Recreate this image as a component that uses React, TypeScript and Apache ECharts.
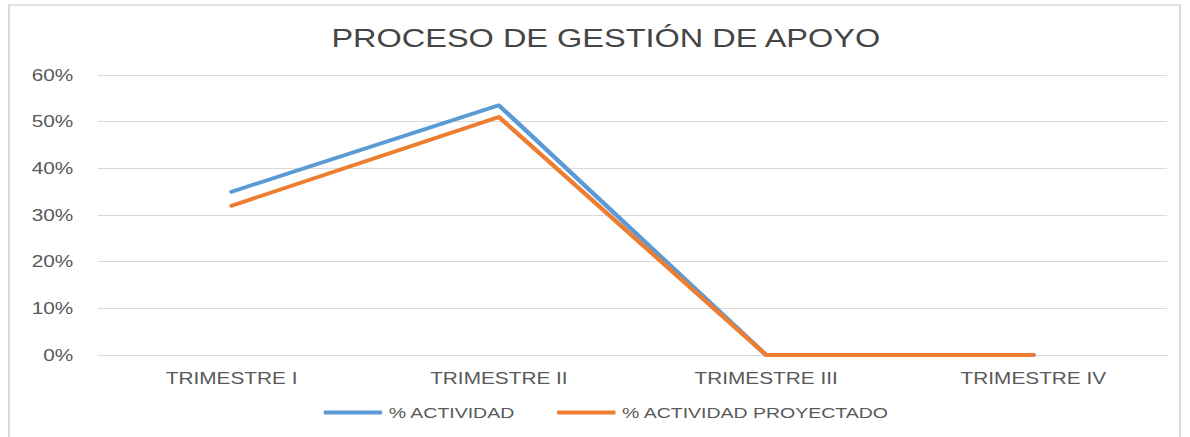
import React, { useEffect, useRef } from "react";
import * as echarts from "echarts";

const categories = ["TRIMESTRE I", "TRIMESTRE II", "TRIMESTRE III", "TRIMESTRE IV"];
const actividad = [0.35, 0.535, 0, 0];
const actividadProyectado = [0.32, 0.51, 0, 0];
const seriesNames = ["% ACTIVIDAD", "% ACTIVIDAD PROYECTADO"];
const titleText = "PROCESO DE GESTIÓN DE APOYO";

const STRETCH = 1.3;
const W = 1190 / STRETCH;
const H = 437;

export default function App() {
  const ref = useRef<HTMLDivElement>(null);
  useEffect(() => {
    if (!ref.current) return;
    const chart = echarts.init(ref.current, undefined, { renderer: "svg", width: W, height: H });
    const font = "'Liberation Sans', Arial, sans-serif";
    chart.setOption({
      animation: false,
      backgroundColor: "#ffffff",
      title: {
        text: titleText,
        left: 461,
        textAlign: "center",
        top: 21,
        textStyle: { fontFamily: font, fontSize: 25, fontWeight: "normal", color: "#454545" },
      },
      legend: {
        data: seriesNames,
        left: 244,
        top: 400,
        icon: "roundRect",
        itemWidth: 45,
        itemHeight: 4,
        itemGap: 32,
        textStyle: { fontFamily: font, fontSize: 15, color: "#595959" },
      },
      grid: { left: 75.4, right: 17.7, top: 75, bottom: 82, containLabel: false },
      xAxis: {
        type: "category",
        data: categories,
        boundaryGap: true,
        axisLine: { lineStyle: { color: "#d9d9d9", width: 1 } },
        axisTick: { show: false },
        axisLabel: { fontFamily: font, fontSize: 16, color: "#595959", margin: 15 },
        splitLine: { show: false },
      },
      yAxis: {
        type: "value",
        min: 0,
        max: 0.6,
        interval: 0.1,
        axisLine: { show: false },
        axisTick: { show: false },
        axisLabel: {
          fontFamily: font,
          fontSize: 16,
          color: "#595959",
          margin: 19,
          formatter: (v: number) => Math.round(v * 100) + "%",
        },
        splitLine: { lineStyle: { color: "#d9d9d9", width: 1 } },
      },
      series: [
        {
          name: seriesNames[0],
          type: "line",
          data: actividad,
          symbol: "none",
          color: "#5B9BD5",
          lineStyle: { width: 3.8, color: "#5B9BD5", cap: "round", join: "round" },
        },
        {
          name: seriesNames[1],
          type: "line",
          data: actividadProyectado,
          symbol: "none",
          color: "#ED7D31",
          lineStyle: { width: 3.8, color: "#ED7D31", cap: "round", join: "round" },
        },
      ],
      graphic: [
        {
          type: "rect",
          shape: { x: 9 / STRETCH, y: 5, width: (1180 - 9) / STRETCH, height: 460 },
          style: { fill: "none", stroke: "#d9d9d9", lineWidth: 1.6 },
          silent: true,
        },
      ],
    });
    return () => chart.dispose();
  }, []);
  return (
    <div
      ref={ref}
      style={{
        position: "fixed",
        left: 0,
        top: 0,
        width: W,
        height: H,
        transform: `scaleX(${STRETCH})`,
        transformOrigin: "left top",
        background: "#fff",
      }}
    />
  );
}
